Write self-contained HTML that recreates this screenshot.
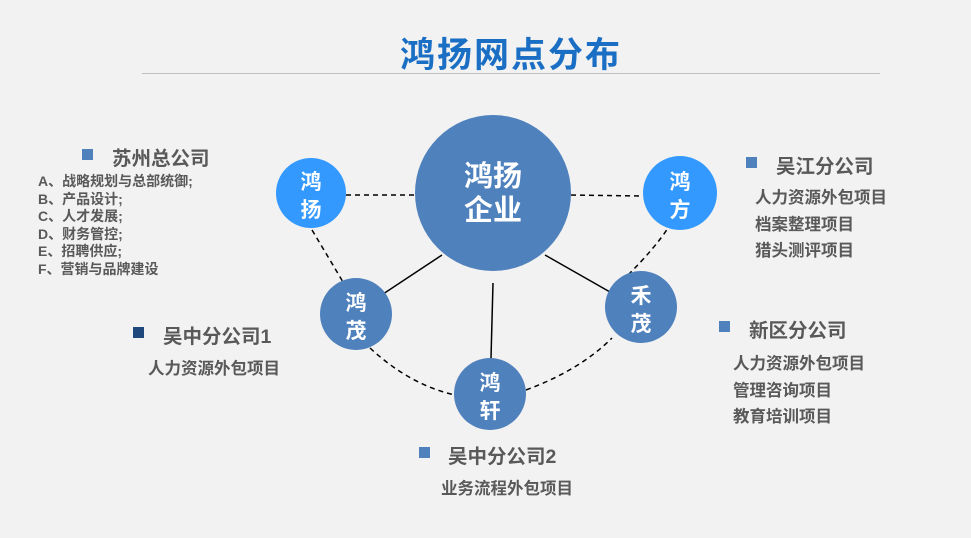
<!DOCTYPE html>
<html><head><meta charset="utf-8"><style>
body{margin:0;width:971px;height:538px;background:#f2f2f2;overflow:hidden;position:relative;font-family:"Liberation Sans","Noto Sans CJK SC",sans-serif;font-weight:bold;color:#595959}
.a{position:absolute;white-space:nowrap}
.sq{position:absolute;width:11px;height:11px;background:#4f81bd}
.h{font-size:19.5px}
.t{font-size:16.5px;line-height:26.5px}
</style></head><body>
<div class="a" style="left:0;width:1022px;top:27px;text-align:center;font-size:35px;color:#1a6fc4;letter-spacing:2px">鸿扬网点分布</div>
<div style="position:absolute;left:142px;top:73px;width:738px;height:1px;background:#bfbfbf"></div>
<svg width="971" height="538" style="position:absolute;left:0;top:0">
<g stroke="#000" stroke-width="1.5" fill="none">
<line x1="442" y1="255" x2="380" y2="296"/>
<line x1="493" y1="283" x2="491" y2="358"/>
<line x1="545" y1="255" x2="610" y2="292"/>
<g stroke-dasharray="5,4">
<line x1="346" y1="195" x2="415" y2="195"/>
<line x1="571" y1="195" x2="643" y2="196"/>
<path d="M312 230 Q330 260 343 282"/>
<path d="M370 348 Q410 385 455 395"/>
<path d="M526 390 Q580 370 612 338"/>
<path d="M628 275 Q655 248 668 228"/>
</g></g>
<g fill="#fff" font-size="21" text-anchor="middle" font-family="Liberation Sans,Noto Sans CJK SC,sans-serif" font-weight="bold">
<circle cx="493" cy="193" r="78" fill="#4f81bd"/>
<text x="493" y="186" font-size="29">鸿扬</text><text x="493" y="220" font-size="29">企业</text>
<circle cx="311" cy="193" r="35" fill="#3399ff"/>
<text x="311" y="189">鸿</text><text x="311" y="217">扬</text>
<circle cx="680" cy="193" r="37" fill="#3399ff"/>
<text x="680" y="189">鸿</text><text x="680" y="217">方</text>
<circle cx="356" cy="314" r="36" fill="#4f81bd"/>
<text x="356" y="310">鸿</text><text x="356" y="338">茂</text>
<circle cx="641" cy="307" r="36" fill="#4f81bd"/>
<text x="641" y="303">禾</text><text x="641" y="331">茂</text>
<circle cx="490" cy="394" r="36" fill="#4f81bd"/>
<text x="490" y="390">鸿</text><text x="490" y="418">轩</text>
</g></svg>
<div class="sq" style="left:82px;top:149px"></div><div class="a h" style="left:112px;top:142px">苏州总公司</div>
<div class="a" style="left:38px;top:173px;font-size:14px;line-height:17.5px">A、战略规划与总部统御;<br>B、产品设计;<br>C、人才发展;<br>D、财务管控;<br>E、招聘供应;<br>F、营销与品牌建设</div>
<div class="sq" style="left:133px;top:327px;background:#1f497d"></div><div class="a h" style="left:163px;top:320px">吴中分公司1</div>
<div class="a t" style="left:148px;top:356px">人力资源外包项目</div>
<div class="sq" style="left:419px;top:447px"></div><div class="a h" style="left:448px;top:440px">吴中分公司2</div>
<div class="a t" style="left:441px;top:476px">业务流程外包项目</div>
<div class="sq" style="left:746px;top:157px"></div><div class="a h" style="left:776px;top:150px">吴江分公司</div>
<div class="a t" style="left:755px;top:185px">人力资源外包项目<br>档案整理项目<br>猎头测评项目</div>
<div class="sq" style="left:719px;top:321px"></div><div class="a h" style="left:749px;top:314px">新区分公司</div>
<div class="a t" style="left:733px;top:351px">人力资源外包项目<br>管理咨询项目<br>教育培训项目</div>
</body></html>
